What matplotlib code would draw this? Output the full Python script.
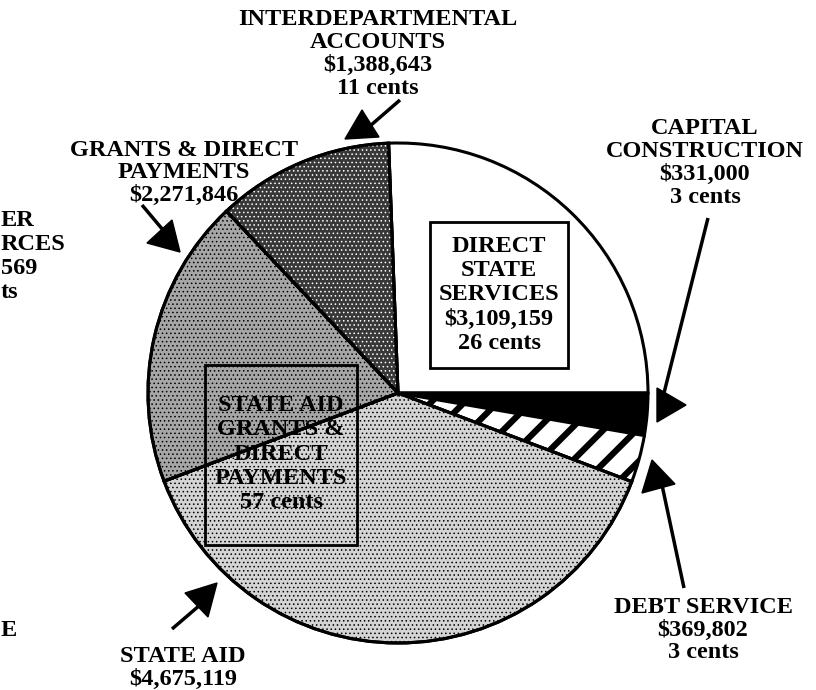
import matplotlib
matplotlib.use("Agg")
import matplotlib.pyplot as plt
from matplotlib.patches import Wedge, Rectangle, Polygon

# data (dollars)
labels = ["DIRECT STATE SERVICES", "CAPITAL CONSTRUCTION", "DEBT SERVICE",
          "STATE AID", "GRANTS & DIRECT PAYMENTS", "INTERDEPARTMENTAL ACCOUNTS"]
amounts = [3109159, 331000, 369802, 4675119, 2271846, 1388643]
face = ["white", "black", "white", "#d4d4d4", "#a6a6a6", "#383838"]
dots = [None, None, None, "black", "black", "white"]

W, H = 816, 690


def Y(y):
    # picture rows run downward, the axes run upward
    return H - y


plt.rcParams["font.family"] = ["Liberation Serif", "DejaVu Serif"]
plt.rcParams["font.weight"] = "bold"

fig = plt.figure(figsize=(W / 100, H / 100), dpi=100)
ax = fig.add_axes([0, 0, 1, 1])

cx, cy, r = 398, Y(393), 250
total = sum(amounts)
# first slice ends at 3 o'clock, going clockwise
start = 360 * amounts[0] / total

wedges, _ = ax.pie(amounts, colors=face, startangle=start, counterclock=False,
                   center=(cx, cy), radius=r, frame=True,
                   wedgeprops=dict(edgecolor="black", linewidth=2.2))
ax.set_xlim(0, W)
ax.set_ylim(0, H)
ax.set_aspect("equal")
ax.axis("off")

# hatched debt service slice
deb = wedges[2]
deb.set_hatch("/")
if hasattr(deb, "set_hatch_linewidth"):
    deb.set_hatch_linewidth(4.5)

# halftone dots on the shaded slices
for w, dc in zip(wedges, dots):
    if dc is None:
        continue
    ov = Wedge(w.center, w.r, w.theta1, w.theta2, fill=False, hatch="....",
               edgecolor=dc, linewidth=0, zorder=w.get_zorder() + 0.1)
    if hasattr(ov, "set_hatch_linewidth"):
        ov.set_hatch_linewidth(0.6)
    ax.add_patch(ov)
    edge = Wedge(w.center, w.r, w.theta1, w.theta2, fill=False,
                 edgecolor="black", linewidth=2.2, zorder=w.get_zorder() + 0.2)
    ax.add_patch(edge)

fs = 17.5
ls = 1.12

# outside labels
ax.text(378, Y(54), "INTERDEPARTMENTAL\nACCOUNTS\n$1,388,643\n11 cents",
        ha="center", va="center", fontsize=fs, linespacing=ls)
ax.text(705, Y(163), "CAPITAL\nCONSTRUCTION\n$331,000\n3 cents",
        ha="center", va="center", fontsize=fs, linespacing=ls)
ax.text(184, Y(173), "GRANTS & DIRECT\nPAYMENTS\n$2,271,846",
        ha="center", va="center", fontsize=fs, linespacing=ls)
ax.text(703, Y(630), "DEBT SERVICE\n$369,802\n3 cents",
        ha="center", va="center", fontsize=fs, linespacing=ls)
ax.text(183, Y(668), "STATE AID\n$4,675,119",
        ha="center", va="center", fontsize=fs, linespacing=ls)

# fragments of the neighbouring chart, cut off at the left edge
fragments = ["ER", "RCES", "569", "ts"]
frag_rows = [221, 245, 268, 292]
for txt, ty in zip(fragments, frag_rows):
    ax.text(1, Y(ty), txt, ha="left", va="center", fontsize=fs)
ax.text(1, Y(630), "E", ha="left", va="center", fontsize=fs)

# boxed labels inside the pie
ax.add_patch(Rectangle((430, Y(368)), 138, 146, fill=False, edgecolor="black",
                       linewidth=2, zorder=5))
ax.text(499, Y(295), "DIRECT\nSTATE\nSERVICES\n$3,109,159\n26 cents",
        ha="center", va="center", fontsize=fs, linespacing=1.2, zorder=6)
ax.add_patch(Rectangle((205, Y(545)), 152, 180, fill=False, edgecolor="black",
                       linewidth=2, zorder=5))
ax.text(281, Y(454), "STATE AID\nGRANTS &\nDIRECT\nPAYMENTS\n57 cents",
        ha="center", va="center", fontsize=fs, linespacing=1.2, zorder=6)

# pointer arrows: triangle head + shaft (picture pixel coordinates)
arrows = [
    ([(362, 110), (345, 139), (379, 137)], [(400, 100), (370, 126)]),
    ([(172, 220), (147, 243), (180, 252)], [(142, 205), (163, 230)]),
    ([(657, 388), (657, 422), (686, 405)], [(708, 218), (664, 393)]),
    ([(652, 460), (642, 493), (675, 484)], [(662, 485), (684, 588)]),
    ([(185, 593), (217, 583), (208, 617)], [(172, 629), (200, 605)]),
]
for tri, shaft in arrows:
    ax.add_patch(Polygon([(x, Y(y)) for x, y in tri], closed=True,
                         facecolor="black", edgecolor="black", zorder=7))
    ax.plot([p[0] for p in shaft], [Y(p[1]) for p in shaft], color="black",
            linewidth=2.5, zorder=7, solid_capstyle="butt")

fig.savefig("out.png", dpi=100)
